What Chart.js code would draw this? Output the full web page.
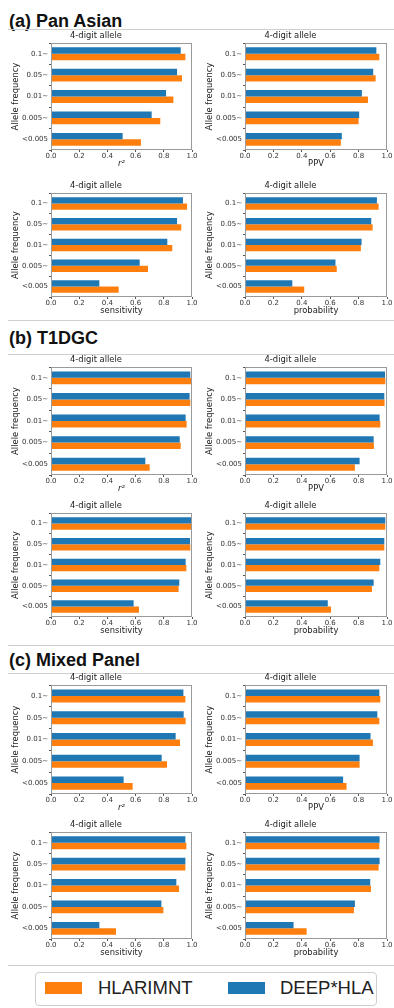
<!DOCTYPE html>
<html>
<head>
<meta charset="utf-8">
<script src="https://cdn.jsdelivr.net/npm/chart.js@4.4.1/dist/chart.umd.min.js"></script>
<style>
body{margin:0;width:394px;height:1008px;background:#fff;position:relative;overflow:hidden}
.hd{position:absolute;left:9px;margin:0;font:bold 18px/18px 'Liberation Sans',Arial,sans-serif;color:#111;white-space:nowrap}
.rule{position:absolute;left:8px;width:386px;height:0;border-top:1px solid #cfcfcf}
canvas{position:absolute}
.legend{position:absolute;left:35px;top:972px;width:342px;height:34px;border:1px solid #cfcfcf;border-radius:4px;box-sizing:border-box}
.sw{position:absolute;height:12px;width:37px}
.lt{position:absolute;font:18.5px/20px 'Liberation Sans',Arial,sans-serif;color:#222;white-space:nowrap}
</style>
</head>
<body>
<div class="hd" style="top:12px">(a) Pan Asian</div>
<div class="rule" style="top:29px"></div>
<div class="rule" style="top:320px"></div>
<div class="hd" style="top:329px">(b) T1DGC</div>
<div class="rule" style="top:354px"></div>
<div class="rule" style="top:645px"></div>
<div class="hd" style="top:651px">(c) Mixed Panel</div>
<div class="rule" style="top:673px"></div>
<div class="rule" style="top:965px"></div>
<div class="legend"></div>
<div id="leg"></div>
<div id="charts"></div>
<script>
const freqBins = ['0.1~', '0.05~', '0.01~', '0.005~', '<0.005'];
const seriesNames = ['DEEP*HLA', 'HLARIMNT'];
const seriesColors = ['#1f77b4', '#ff7f0e'];
const xTicks = [0, 0.2, 0.4, 0.6, 0.8, 1.0];

// (a) Pan Asian
const panR2Deep = [0.920, 0.894, 0.816, 0.714, 0.508];
const panR2Hlar = [0.953, 0.929, 0.868, 0.775, 0.638];
const panPpvDeep = [0.925, 0.903, 0.823, 0.804, 0.682];
const panPpvHlar = [0.946, 0.920, 0.866, 0.800, 0.675];
const panSensDeep = [0.936, 0.894, 0.825, 0.629, 0.343];
const panSensHlar = [0.965, 0.924, 0.860, 0.688, 0.480];
const panProbDeep = [0.929, 0.889, 0.821, 0.637, 0.333];
const panProbHlar = [0.941, 0.899, 0.816, 0.646, 0.417];
// (b) T1DGC
const t1R2Deep = [0.988, 0.983, 0.955, 0.913, 0.669];
const t1R2Hlar = [0.993, 0.988, 0.962, 0.920, 0.700];
const t1PpvDeep = [0.986, 0.981, 0.948, 0.906, 0.807];
const t1PpvHlar = [0.988, 0.983, 0.953, 0.908, 0.774];
const t1SensDeep = [0.993, 0.986, 0.955, 0.910, 0.586];
const t1SensHlar = [0.998, 0.988, 0.960, 0.905, 0.624];
const t1ProbDeep = [0.988, 0.981, 0.953, 0.906, 0.583];
const t1ProbHlar = [0.988, 0.981, 0.946, 0.894, 0.606];
// (c) Mixed Panel
const mixR2Deep = [0.939, 0.941, 0.884, 0.785, 0.515];
const mixR2Hlar = [0.953, 0.955, 0.915, 0.823, 0.579];
const mixPpvDeep = [0.946, 0.932, 0.884, 0.807, 0.691];
const mixPpvHlar = [0.953, 0.946, 0.901, 0.807, 0.715];
const mixSensDeep = [0.953, 0.953, 0.889, 0.783, 0.343];
const mixSensHlar = [0.960, 0.953, 0.908, 0.797, 0.461];
const mixProbDeep = [0.948, 0.948, 0.882, 0.774, 0.342];
const mixProbHlar = [0.946, 0.941, 0.887, 0.767, 0.434];

const FONT = "'DejaVu Sans', sans-serif";
const TITLE_H = 12.08, XAX_H = 22, YAX_W = 51;

// plot boxes (top/bottom of axes frame) per row, and left/right per column
const rows = [[43, 150], [193, 297], [367, 475], [513, 617], [685, 794], [832, 939]];
const cols = [{cx: 0, right: 192}, {cx: 194, right: 387}];
const CW = 200;

const panels = [
  [panR2Deep, panR2Hlar, 'r²'], [panPpvDeep, panPpvHlar, 'PPV'],
  [panSensDeep, panSensHlar, 'sensitivity'], [panProbDeep, panProbHlar, 'probability'],
  [t1R2Deep, t1R2Hlar, 'r²'], [t1PpvDeep, t1PpvHlar, 'PPV'],
  [t1SensDeep, t1SensHlar, 'sensitivity'], [t1ProbDeep, t1ProbHlar, 'probability'],
  [mixR2Deep, mixR2Hlar, 'r²'], [mixPpvDeep, mixPpvHlar, 'PPV'],
  [mixSensDeep, mixSensHlar, 'sensitivity'], [mixProbDeep, mixProbHlar, 'probability']
];

const frame = {
  id: 'frame',
  afterDraw(c) {
    const {ctx, chartArea: a} = c;
    ctx.save();
    ctx.strokeStyle = '#9a9a9a';
    ctx.lineWidth = 1;
    ctx.strokeRect(Math.round(a.left) + 0.5, Math.round(a.top) + 0.5, Math.round(a.right - a.left) - 1, Math.round(a.bottom - a.top) - 1);
    ctx.restore();
  }
};

function makeChart(canvas, deep, hlar, xTitle, padRight) {
  const ds = (i, d) => ({label: seriesNames[i], data: d, backgroundColor: seriesColors[i],
    categoryPercentage: 0.6, barPercentage: 1.0, borderWidth: 0});
  return new Chart(canvas, {
    type: 'bar',
    data: {labels: freqBins, datasets: [ds(0, deep), ds(1, hlar)]},
    options: {
      indexAxis: 'y', responsive: false, animation: false, devicePixelRatio: 1,
      layout: {padding: {left: 0, top: 0, right: padRight, bottom: 0}},
      plugins: {
        legend: {display: false}, tooltip: {enabled: false},
        title: {display: true, text: '4-digit allele', color: '#222',
          font: {family: FONT, size: 8.4, weight: 'normal'}, padding: {top: 0, bottom: 2}}
      },
      scales: {
        x: {
          min: 0, max: 1,
          afterBuildTicks: s => { s.ticks = xTicks.map(v => ({value: v})); },
          ticks: {callback: v => v.toFixed(1), font: {family: FONT, size: 7}, color: '#333', padding: 0, maxRotation: 0},
          grid: {drawOnChartArea: false, drawTicks: true, tickLength: 2, color: '#555'},
          border: {display: false},
          title: {display: true, text: xTitle, color: '#222',
            font: {family: FONT, size: 8.4, style: xTitle === 'r²' ? 'italic' : 'normal'}, padding: {top: 0, bottom: 3}},
          afterFit: s => { s.height = XAX_H; }
        },
        y: {
          ticks: {font: {family: FONT, size: 7}, color: '#333', padding: 1},
          grid: {drawOnChartArea: false, drawTicks: true, tickLength: 2, color: '#555'},
          border: {display: false},
          title: {display: true, text: 'Allele frequency', color: '#222',
            font: {family: FONT, size: 8.4}, padding: {top: 11, bottom: 0}},
          afterFit: s => { s.width = YAX_W; }
        }
      }
    },
    plugins: [frame]
  });
}

const holder = document.getElementById('charts');
panels.forEach((p, i) => {
  const [top, bottom] = rows[Math.floor(i / 2)];
  const col = cols[i % 2];
  const cTop = Math.round(top - TITLE_H);
  const cH = Math.round(bottom + XAX_H - cTop);
  const cv = document.createElement('canvas');
  cv.width = CW; cv.height = cH;
  cv.style.left = col.cx + 'px'; cv.style.top = cTop + 'px';
  holder.appendChild(cv);
  makeChart(cv, p[0], p[1], p[2], col.cx + CW - col.right);
});

// legend: HLARIMNT first, then DEEP*HLA
const leg = document.getElementById('leg');
const legPos = [{i: 1, sw: 45, tx: 98}, {i: 0, sw: 228, tx: 280}];
legPos.forEach(l => {
  const s = document.createElement('div');
  s.className = 'sw'; s.style.left = l.sw + 'px'; s.style.top = '982px';
  s.style.background = seriesColors[l.i];
  const t = document.createElement('div');
  t.className = 'lt'; t.style.left = l.tx + 'px'; t.style.top = '978px';
  t.textContent = seriesNames[l.i];
  leg.appendChild(s); leg.appendChild(t);
});
</script>
</body>
</html>
